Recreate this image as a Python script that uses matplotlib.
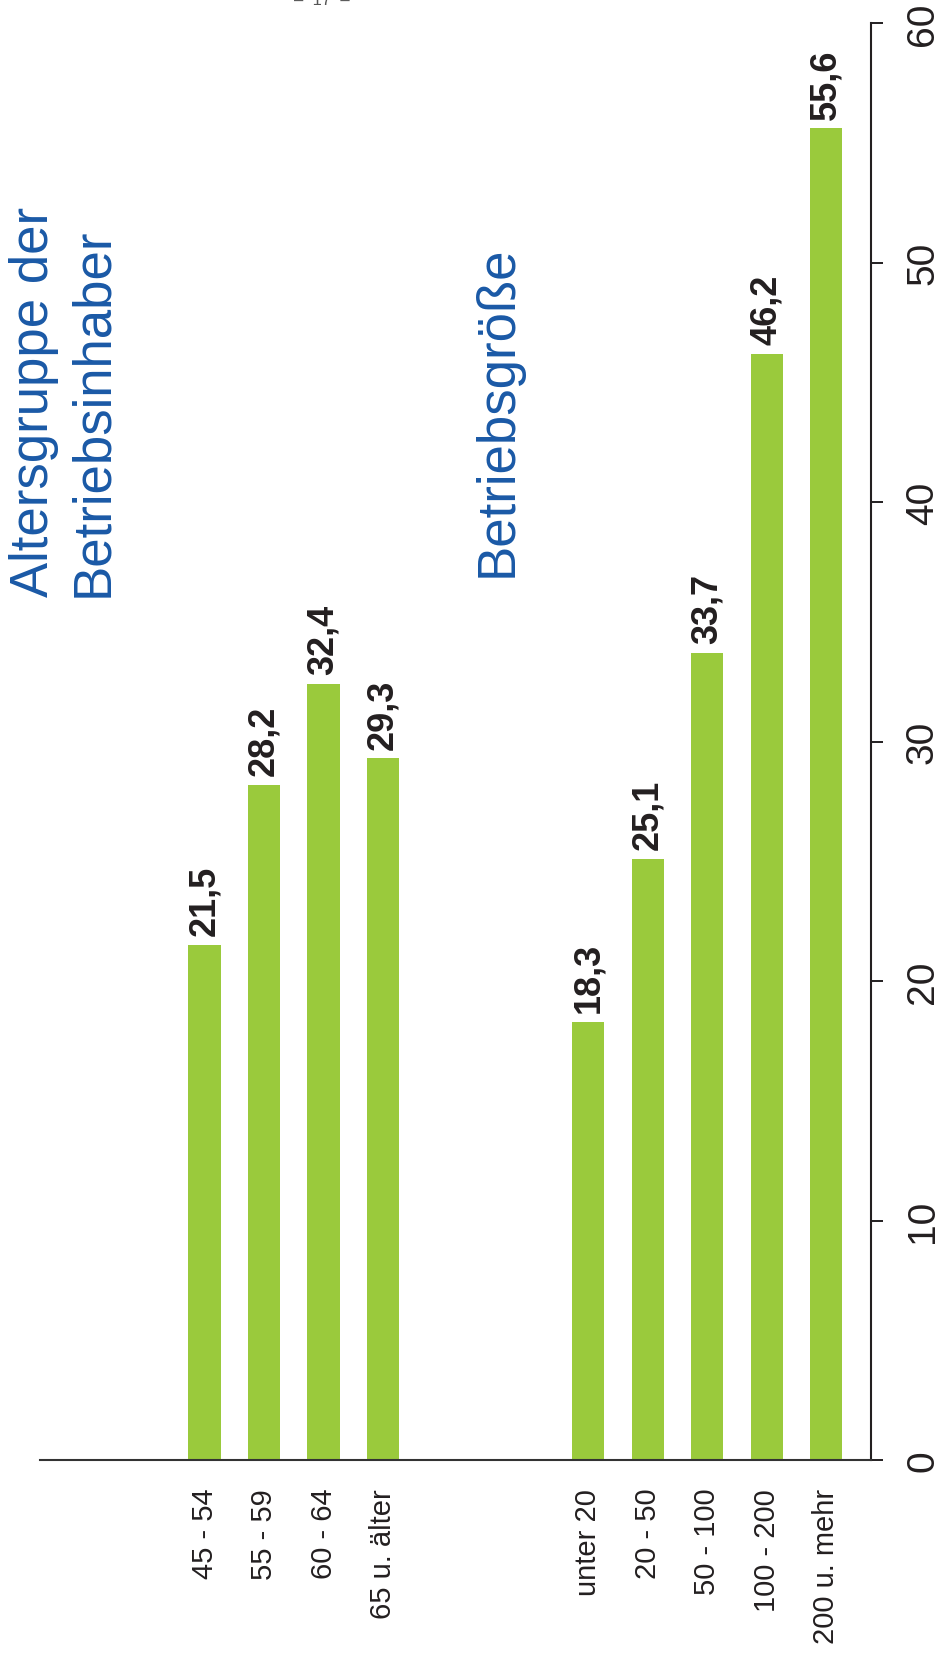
import numpy as np
import matplotlib
matplotlib.use("Agg")
import matplotlib.pyplot as plt

plt.rcParams['font.family'] = ['Liberation Sans', 'DejaVu Sans']

# ---- data ----
age_groups = ["45 - 54", "55 - 59", "60 - 64", "65 u. älter"]
age_values = [21.5, 28.2, 32.4, 29.3]
size_groups = ["unter 20", "20 - 50", "50 - 100", "100 - 200", "200 u. mehr"]
size_values = [18.3, 25.1, 33.7, 46.2, 55.6]
y_ticks = [0, 10, 20, 30, 40, 50, 60]
title_age = "Altersgruppe der\nBetriebsinhaber"
title_size = "Betriebsgröße"
page_label = "–  17  –"

W, H = 943, 1658
fig = plt.figure(figsize=(W / 100, H / 100), dpi=100)
ax = fig.add_axes([40 / W, (H - 1461) / H, (871 - 40) / W, (1461 - 24) / H])

green = "#9ACA3C"
dark = "#231F20"
blue = "#1A59A6"

pos_age = np.arange(len(age_groups), dtype=float)
pos_size = 6.45 + np.arange(len(size_groups), dtype=float)
positions = np.concatenate([pos_age, pos_size])
labels = age_groups + size_groups
values = age_values + size_values

bars = ax.bar(positions, values, width=0.54, color=green, edgecolor="none", zorder=2)

for x, v in zip(positions, values):
    ax.annotate(f"{v:.1f}".replace(".", ","), xy=(x, v), xytext=(0, 7),
                textcoords="offset points", rotation=90, ha="center", va="bottom",
                fontsize=26, fontweight="bold", color=dark)

ax.set_xlim(-2.765, 11.2)
ax.set_ylim(0, 60)

ax.set_xticks(positions)
ax.set_xticklabels(labels)
ax.tick_params(axis="x", length=0, pad=20, labelsize=21, labelrotation=90, colors=dark)

ax.yaxis.tick_right()
ax.set_yticks(y_ticks)
ax.set_yticklabels([str(t) for t in y_ticks])
ax.tick_params(axis="y", direction="out", length=8.5, width=1.4, pad=16,
               labelsize=28, labelrotation=90, colors=dark)
for lbl in ax.get_yticklabels():
    lbl.set_verticalalignment("center")

for s in ["top", "left"]:
    ax.spines[s].set_visible(False)
ax.spines["right"].set_linewidth(1.5)
ax.spines["right"].set_color(dark)
ax.spines["bottom"].set_linewidth(1.5)
ax.spines["bottom"].set_color("#333333")

fig.text(9 / W, (H - 597) / H, title_age, rotation=90, ha="left", va="bottom",
         multialignment="left", fontsize=38, color=blue, linespacing=1.23)
fig.text(473 / W, (H - 577) / H, title_size, rotation=90, ha="left", va="bottom",
         fontsize=38, color=blue)
fig.text(322 / W, (H - 5) / H, page_label, ha="center", va="baseline",
         fontsize=12, color="#555555")

fig.savefig("out.png", dpi=100)
